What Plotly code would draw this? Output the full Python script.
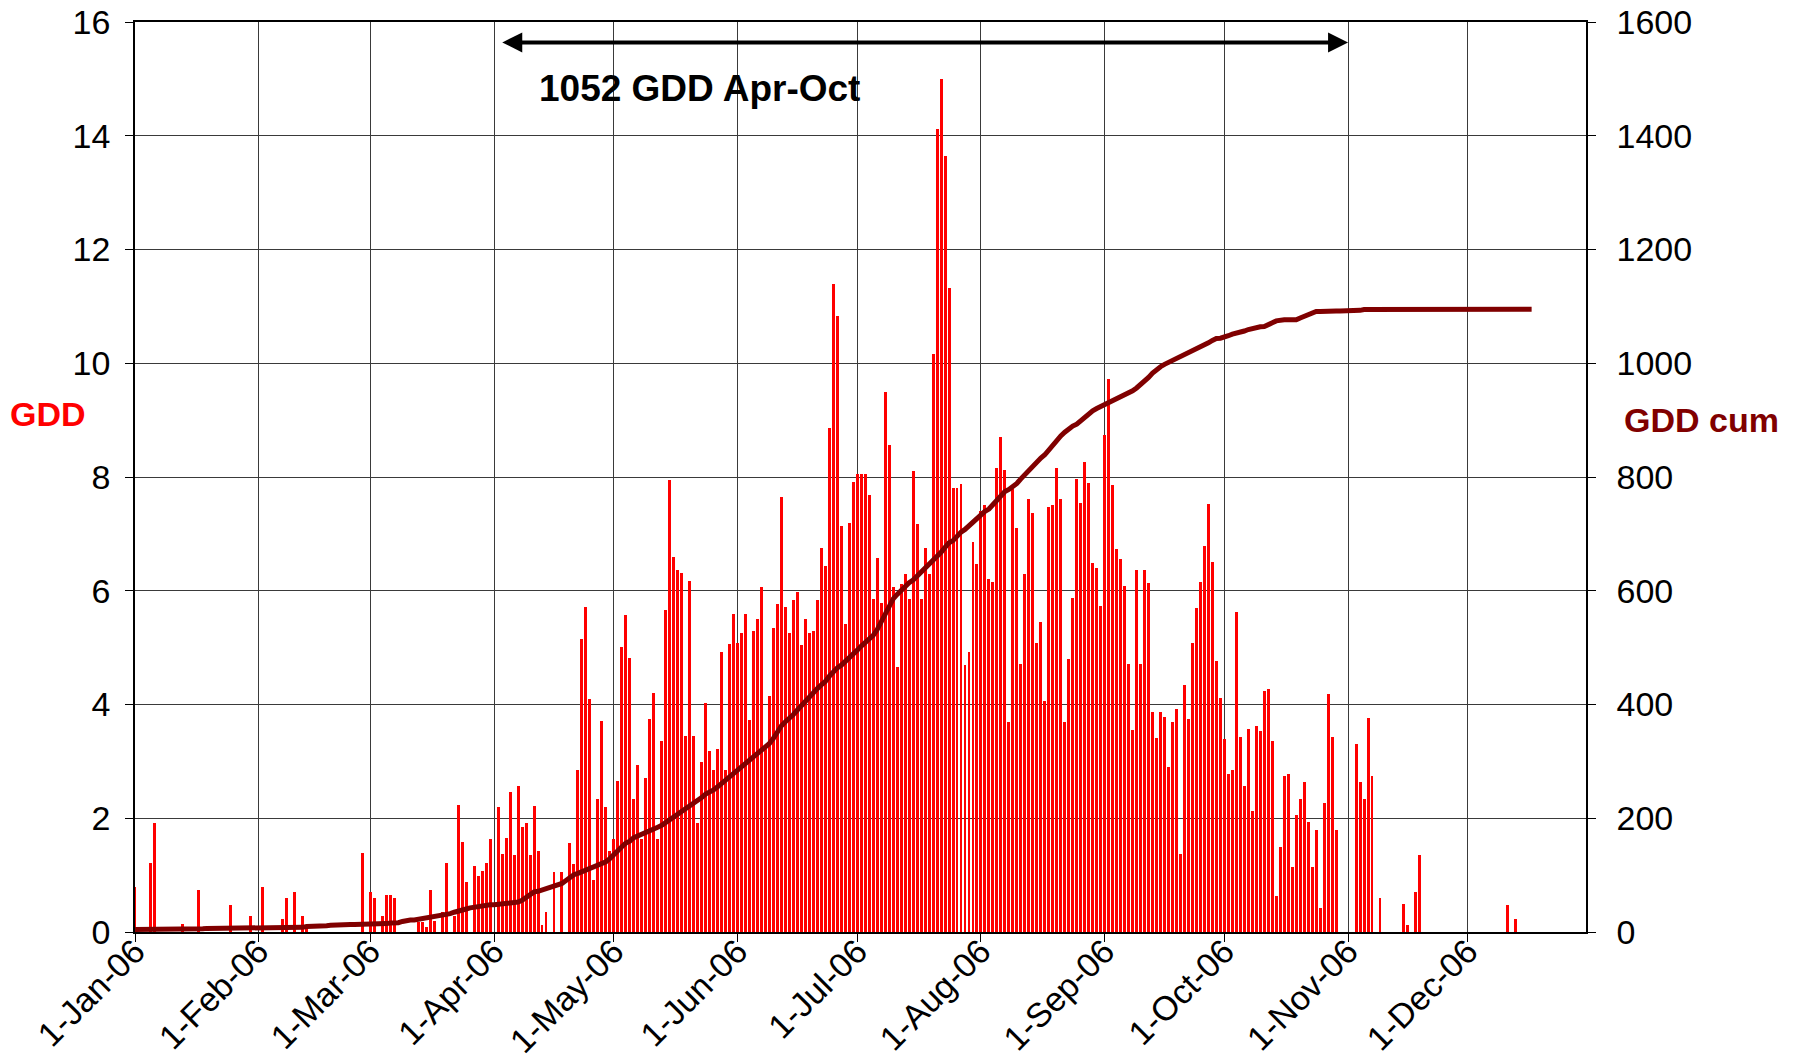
import numpy as np
import pandas as pd
import plotly.graph_objects as go

# ---- daily GDD values (2006) ----
jan = [0.79, 0, 0, 0, 1.21, 1.92, 0, 0, 0, 0, 0, 0, 0.14, 0, 0, 0, 0.74, 0, 0, 0,
       0, 0, 0, 0, 0.47, 0, 0, 0, 0, 0.28, 0]
feb = [0, 0.79, 0, 0, 0, 0, 0.22, 0.59, 0, 0.70, 0, 0.28, 0.05, 0, 0, 0, 0, 0, 0, 0,
       0, 0, 0, 0, 0, 0, 1.39, 0]
mar = [0.70, 0.59, 0, 0.28, 0.65, 0.65, 0.59, 0, 0, 0, 0, 0, 0.18, 0.18, 0.08, 0.74,
       0.19, 0, 0.36, 1.21, 0, 0.29, 2.24, 1.59, 0.88, 0, 1.16, 0.98, 1.07, 1.21, 1.64]
apr = [0, 2.19, 1.38, 1.66, 2.47, 1.35, 2.56, 1.85, 1.91, 1.35, 2.22, 1.43, 0.13, 0.36,
       0, 1.06, 0, 1.06, 0, 1.57, 1.20, 2.84, 5.15, 5.71, 4.09, 0.92, 2.33, 3.71, 2.19, 1.43]
may = [1.63, 2.66, 5.01, 5.57, 4.81, 2.34, 2.94, 1.64, 2.71, 3.74, 4.21, 1.64, 3.36, 5.66,
       7.95, 6.59, 6.36, 6.31, 3.45, 6.17, 3.45, 1.92, 2.99, 4.02, 3.19, 2.85, 3.22, 4.92,
       2.85, 5.06, 5.60]
jun = [5.08, 5.26, 5.59, 3.72, 5.30, 5.50, 6.06, 3.27, 4.15, 5.35, 5.77, 7.64, 5.72, 5.26,
       5.83, 5.97, 5.04, 5.50, 5.26, 5.30, 5.83, 6.76, 6.43, 8.86, 11.39, 10.83, 7.14, 5.41,
       7.19, 7.92]
jul = [8.06, 8.05, 8.05, 7.68, 5.86, 6.57, 5.78, 9.49, 8.56, 6.06, 4.66, 6.11, 6.29, 5.86,
       8.11, 7.17, 5.86, 6.75, 6.29, 10.17, 14.11, 15.00, 13.65, 11.32, 7.81, 7.81, 7.88,
       4.70, 4.93, 6.85, 6.47]
aug = [7.41, 7.50, 6.20, 6.15, 8.15, 8.71, 8.12, 3.69, 7.79, 7.10, 4.71, 6.29, 7.61, 7.36,
       5.09, 5.45, 4.07, 7.47, 7.50, 8.15, 7.61, 3.69, 4.80, 5.87, 7.97, 7.55, 8.26, 7.89,
       6.48, 6.40, 5.73]
sep = [8.74, 9.72, 7.86, 6.73, 6.55, 6.08, 4.71, 3.55, 6.36, 4.71, 6.36, 6.13, 3.87, 3.41,
       3.87, 3.78, 2.90, 3.70, 3.92, 1.38, 4.35, 3.74, 5.08, 5.70, 6.16, 6.78, 7.52, 6.50,
       4.77, 4.12]
oct_ = [3.40, 2.78, 2.84, 5.63, 3.43, 2.56, 3.57, 2.13, 3.63, 3.54, 4.24, 4.27, 3.35, 0.64,
        1.49, 2.75, 2.78, 1.15, 2.05, 2.33, 2.64, 1.94, 1.15, 1.80, 0.42, 2.27, 4.19, 3.43,
        1.80, 0, 0]
nov = [0, 0, 3.31, 2.64, 2.33, 3.77, 2.75, 0, 0.59, 0, 0, 0, 0, 0, 0.50, 0.13, 0, 0.70,
       1.35, 0, 0, 0, 0, 0, 0, 0, 0, 0, 0, 0]
dec = [0, 0, 0, 0, 0, 0, 0, 0, 0, 0, 0.47, 0, 0.22, 0, 0, 0, 0, 0, 0, 0, 0, 0, 0, 0, 0,
       0, 0, 0, 0, 0, 0]

gdd_daily = jan + feb + mar + apr + may + jun + jul + aug + sep + oct_ + nov + dec
dates = pd.date_range("2006-01-01", "2006-12-31", freq="D")
gdd_cum = np.cumsum(gdd_daily)          # running total ("GDD cum")

month_ticks = ["2006-%02d-01" % m for m in range(1, 13)]
month_labels = ["1-Jan-06", "1-Feb-06", "1-Mar-06", "1-Apr-06", "1-May-06", "1-Jun-06",
                "1-Jul-06", "1-Aug-06", "1-Sep-06", "1-Oct-06", "1-Nov-06", "1-Dec-06"]
left_ticks = [0, 2, 4, 6, 8, 10, 12, 14, 16]
right_ticks = [0, 200, 400, 600, 800, 1000, 1200, 1400, 1600]

# the cumulative line sits on its own (hidden) date axis, offset by ~two weeks
x_range = ["2006-01-01", "2006-12-30 15:00"]
cum_axis_shift = pd.Timedelta(days=14)
x2_range = [str(pd.Timestamp(x_range[0]) + cum_axis_shift),
            str(pd.Timestamp(x_range[1]) + cum_axis_shift)]

FONT = "Liberation Sans, Arial, sans-serif"
TICKFONT = dict(family=FONT, size=34, color="black")

fig = go.Figure()
fig.add_trace(go.Bar(
    x=dates, y=gdd_daily, name="GDD",
    marker=dict(color="#FF0000", line=dict(width=0)),
    width=0.74 * 86400000,
))
fig.add_trace(go.Scatter(
    x=dates, y=gdd_cum, name="GDD cum", mode="lines",
    xaxis="x2", yaxis="y2",
    line=dict(color="#800000", width=5),
))

fig.update_layout(
    width=1796, height=1062,
    margin=dict(l=135, r=210, t=22, b=130),
    paper_bgcolor="white", plot_bgcolor="white",
    showlegend=False, bargap=0,
    font=dict(family=FONT, color="black"),
    xaxis=dict(
        type="date", range=x_range, automargin=False,
        tickvals=month_ticks, ticktext=month_labels, tickangle=-45,
        tickfont=TICKFONT, ticks="outside", ticklen=8, tickcolor="black",
        ticklabelstandoff=-24,
        showgrid=True, gridcolor="#3a3a3a", gridwidth=1,
        showline=True, linecolor="black", linewidth=1.5, mirror=True,
        zeroline=False,
    ),
    xaxis2=dict(
        type="date", range=x2_range, overlaying="x", visible=False,
        anchor="y2",
    ),
    yaxis=dict(
        range=[0, 16], tickvals=left_ticks, tickfont=TICKFONT, automargin=False,
        ticks="outside", ticklen=8, tickcolor="black", ticklabelstandoff=8,
        showgrid=True, gridcolor="#3a3a3a", gridwidth=1,
        showline=True, linecolor="black", linewidth=1.5, zeroline=False,
    ),
    yaxis2=dict(
        range=[0, 1600], tickvals=right_ticks, tickfont=TICKFONT, automargin=False,
        overlaying="y", side="right", anchor="x",
        ticks="outside", ticklen=8, tickcolor="black", ticklabelstandoff=14,
        showgrid=False, showline=True, linecolor="black", linewidth=1.5,
        zeroline=False,
    ),
)

# double-headed arrow spanning Apr-Oct
fig.add_annotation(
    x="2006-11-01", y=15.64, ax="2006-04-02 16:00", ay=15.64,
    xref="x", yref="y", axref="x", ayref="y",
    text="", showarrow=True, arrowhead=2, startarrowhead=2,
    arrowside="end+start", arrowsize=1, arrowwidth=4, arrowcolor="black",
)
fig.add_annotation(
    x="2006-05-22 12:00", y=14.83, xref="x", yref="y",
    text="<b>1052 GDD Apr-Oct</b>", showarrow=False,
    font=dict(family=FONT, size=37, color="black"),
)
fig.add_annotation(
    x=-0.0875, y=0.569, xref="paper", yref="paper", xanchor="left", yanchor="middle",
    text="<b>GDD</b>", showarrow=False,
    font=dict(family=FONT, size=34, color="#FF0000"),
)
fig.add_annotation(
    x=1.0248, y=0.563, xref="paper", yref="paper", xanchor="left", yanchor="middle",
    text="<b>GDD cum</b>", showarrow=False,
    font=dict(family=FONT, size=34, color="#800000"),
)

fig.write_html("out.html", config={"displayModeBar": False},
               post_script="document.body.style.margin='0';document.body.style.overflow='hidden';")
